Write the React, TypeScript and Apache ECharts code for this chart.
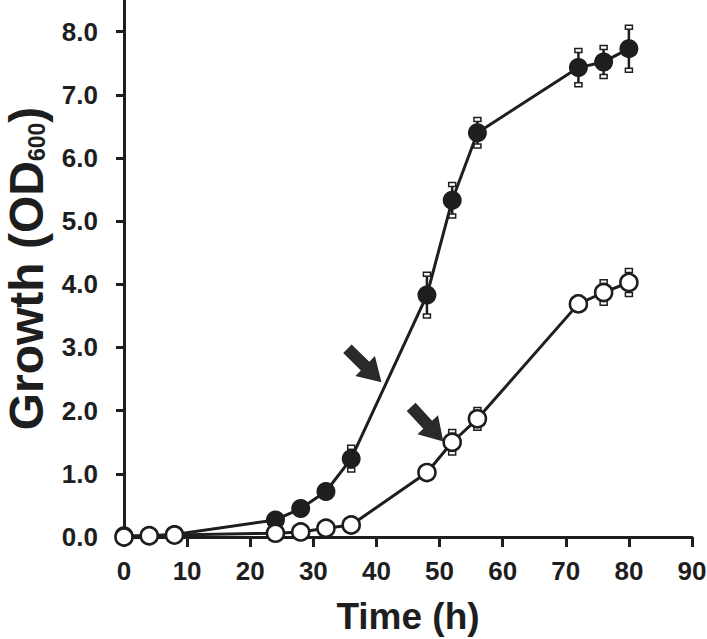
import React, { useEffect, useRef } from "react";
import * as echarts from "echarts";

const times = [0, 4, 8, 24, 28, 32, 36, 48, 52, 56, 72, 76, 80];
const filledValues = [0.02, 0.02, 0.04, 0.27, 0.45, 0.72, 1.24, 3.83, 5.33, 6.4, 7.43, 7.52, 7.73];
const filledErrors = [0, 0, 0, 0.02, 0.03, 0.04, 0.18, 0.33, 0.25, 0.21, 0.27, 0.23, 0.34];
const openValues = [0.0, 0.02, 0.03, 0.06, 0.08, 0.14, 0.19, 1.02, 1.5, 1.87, 3.69, 3.87, 4.03];
const openErrors = [0, 0, 0, 0.01, 0.01, 0.02, 0.03, 0.05, 0.17, 0.15, 0.1, 0.17, 0.19];

const yTicks = [0, 1, 2, 3, 4, 5, 6, 7, 8];
const xTicks = [0, 10, 20, 30, 40, 50, 60, 70, 80, 90];

// arrows: [tailX, tailY, tipX, tipY] in data units
const arrows = [
  [35.4, 2.98, 40.8, 2.45],
  [45.5, 2.06, 50.6, 1.51],
];

const INK = "#1e1e1e";
const FONT = "'Liberation Sans', Arial, Helvetica, sans-serif";

export default function App() {
  const ref = useRef<HTMLDivElement>(null);

  useEffect(() => {
    document.body.style.margin = "0";
    if (!ref.current) return;
    const chart = echarts.init(ref.current, null, { renderer: "svg" });

    const errData = (vals: number[], errs: number[]) =>
      times.map((t, i) => [t, vals[i] - errs[i], vals[i] + errs[i]]);

    const errorSeries = (vals: number[], errs: number[], name: string) => ({
      type: "custom",
      name,
      z: 1,
      silent: true,
      encode: { x: 0, y: [1, 2] },
      data: errData(vals, errs),
      renderItem: (params: any, api: any) => {
        const lo = api.coord([api.value(0), api.value(1)]);
        const hi = api.coord([api.value(0), api.value(2)]);
        if (Math.abs(hi[1] - lo[1]) < 1) return { type: "group", children: [] };
        const cw = 7;
        const ch = 4;
        return {
          type: "group",
          children: [
            {
              type: "line",
              shape: { x1: lo[0], y1: lo[1], x2: hi[0], y2: hi[1] },
              style: { stroke: INK, lineWidth: 2.5 },
            },
            {
              type: "rect",
              shape: { x: hi[0] - cw / 2, y: hi[1] - ch / 2, width: cw, height: ch },
              style: { fill: "#fff", stroke: INK, lineWidth: 1.5 },
            },
            {
              type: "rect",
              shape: { x: lo[0] - cw / 2, y: lo[1] - ch / 2, width: cw, height: ch },
              style: { fill: "#fff", stroke: INK, lineWidth: 1.5 },
            },
          ],
        };
      },
    });

    const option: any = {
      animation: false,
      backgroundColor: "#fff",
      grid: {
        left: 124,
        right: 15,
        top: 0,
        bottom: 102,
        containLabel: false,
        outerBoundsMode: "none",
      },
      xAxis: {
        type: "value",
        min: 0,
        max: 90,
        interval: 10,
        name: "Time (h)",
        nameLocation: "middle",
        nameGap: 61,
        nameTextStyle: { fontFamily: FONT, fontWeight: "bold", fontSize: 37, color: INK },
        axisLine: { show: true, onZero: false, lineStyle: { color: INK, width: 3 } },
        axisTick: { show: true, inside: false, length: 10, lineStyle: { color: INK, width: 3 } },
        axisLabel: {
          margin: 21,
          fontFamily: FONT,
          fontWeight: "bold",
          fontSize: 26,
          color: INK,
          customValues: xTicks,
        },
        splitLine: { show: false },
      },
      yAxis: {
        type: "value",
        min: 0,
        max: 8.5,
        interval: 1,
        name: "{m|Growth (OD}{s|600}{m|)}",
        nameLocation: "middle",
        nameGap: 74,
        nameRotate: 90,
        nameTextStyle: {
          color: INK,
          rich: {
            m: { fontFamily: FONT, fontWeight: "bold", fontSize: 48, color: INK, lineHeight: 44 },
            s: {
              fontFamily: FONT,
              fontWeight: "bold",
              fontSize: 23,
              color: INK,
              lineHeight: 24,
              verticalAlign: "bottom",
            },
          },
        },
        axisLine: { show: true, onZero: false, lineStyle: { color: INK, width: 3 } },
        axisTick: {
          show: true,
          inside: false,
          length: 8,
          lineStyle: { color: INK, width: 3 },
          customValues: yTicks,
        },
        axisLabel: {
          margin: 26,
          fontFamily: FONT,
          fontWeight: "bold",
          fontSize: 26,
          color: INK,
          customValues: yTicks,
          formatter: (v: number) => (Number.isInteger(v) ? v.toFixed(1) : ""),
        },
        splitLine: { show: false },
      },
      series: [
        errorSeries(filledValues, filledErrors, "errFilled"),
        errorSeries(openValues, openErrors, "errOpen"),
        {
          type: "line",
          name: "filled",
          z: 2,
          data: times.map((t, i) => [t, filledValues[i]]),
          symbol: "circle",
          symbolSize: 19,
          showSymbol: true,
          lineStyle: { color: INK, width: 3 },
          itemStyle: { color: INK, borderWidth: 0 },
        },
        {
          type: "line",
          name: "open",
          z: 3,
          data: times.map((t, i) => [t, openValues[i]]),
          symbol: "circle",
          symbolSize: 17,
          showSymbol: true,
          lineStyle: { color: INK, width: 3 },
          itemStyle: { color: "#fff", borderColor: INK, borderWidth: 2.6 },
        },
        {
          type: "custom",
          name: "arrows",
          z: 4,
          silent: true,
          encode: { x: [0, 2], y: [1, 3] },
          data: arrows,
          renderItem: (params: any, api: any) => {
            const p1 = api.coord([api.value(0), api.value(1)]);
            const p2 = api.coord([api.value(2), api.value(3)]);
            const dx = p2[0] - p1[0];
            const dy = p2[1] - p1[1];
            const len = Math.sqrt(dx * dx + dy * dy);
            const ux = dx / len;
            const uy = dy / len;
            const nx = -uy;
            const ny = ux;
            const headLen = 23;
            const headHalf = 14;
            const shaftHalf = 6;
            const bx = p2[0] - ux * headLen;
            const by = p2[1] - uy * headLen;
            const pts = [
              [p1[0] + nx * shaftHalf, p1[1] + ny * shaftHalf],
              [bx + nx * shaftHalf, by + ny * shaftHalf],
              [bx + nx * headHalf, by + ny * headHalf],
              [p2[0], p2[1]],
              [bx - nx * headHalf, by - ny * headHalf],
              [bx - nx * shaftHalf, by - ny * shaftHalf],
              [p1[0] - nx * shaftHalf, p1[1] - ny * shaftHalf],
            ];
            return {
              type: "polygon",
              shape: { points: pts },
              style: { fill: "#2a2a2a", stroke: "none" },
            };
          },
        },
      ],
    };

    chart.setOption(option);
    return () => chart.dispose();
  }, []);

  return <div ref={ref} style={{ width: 707, height: 639 }} />;
}
